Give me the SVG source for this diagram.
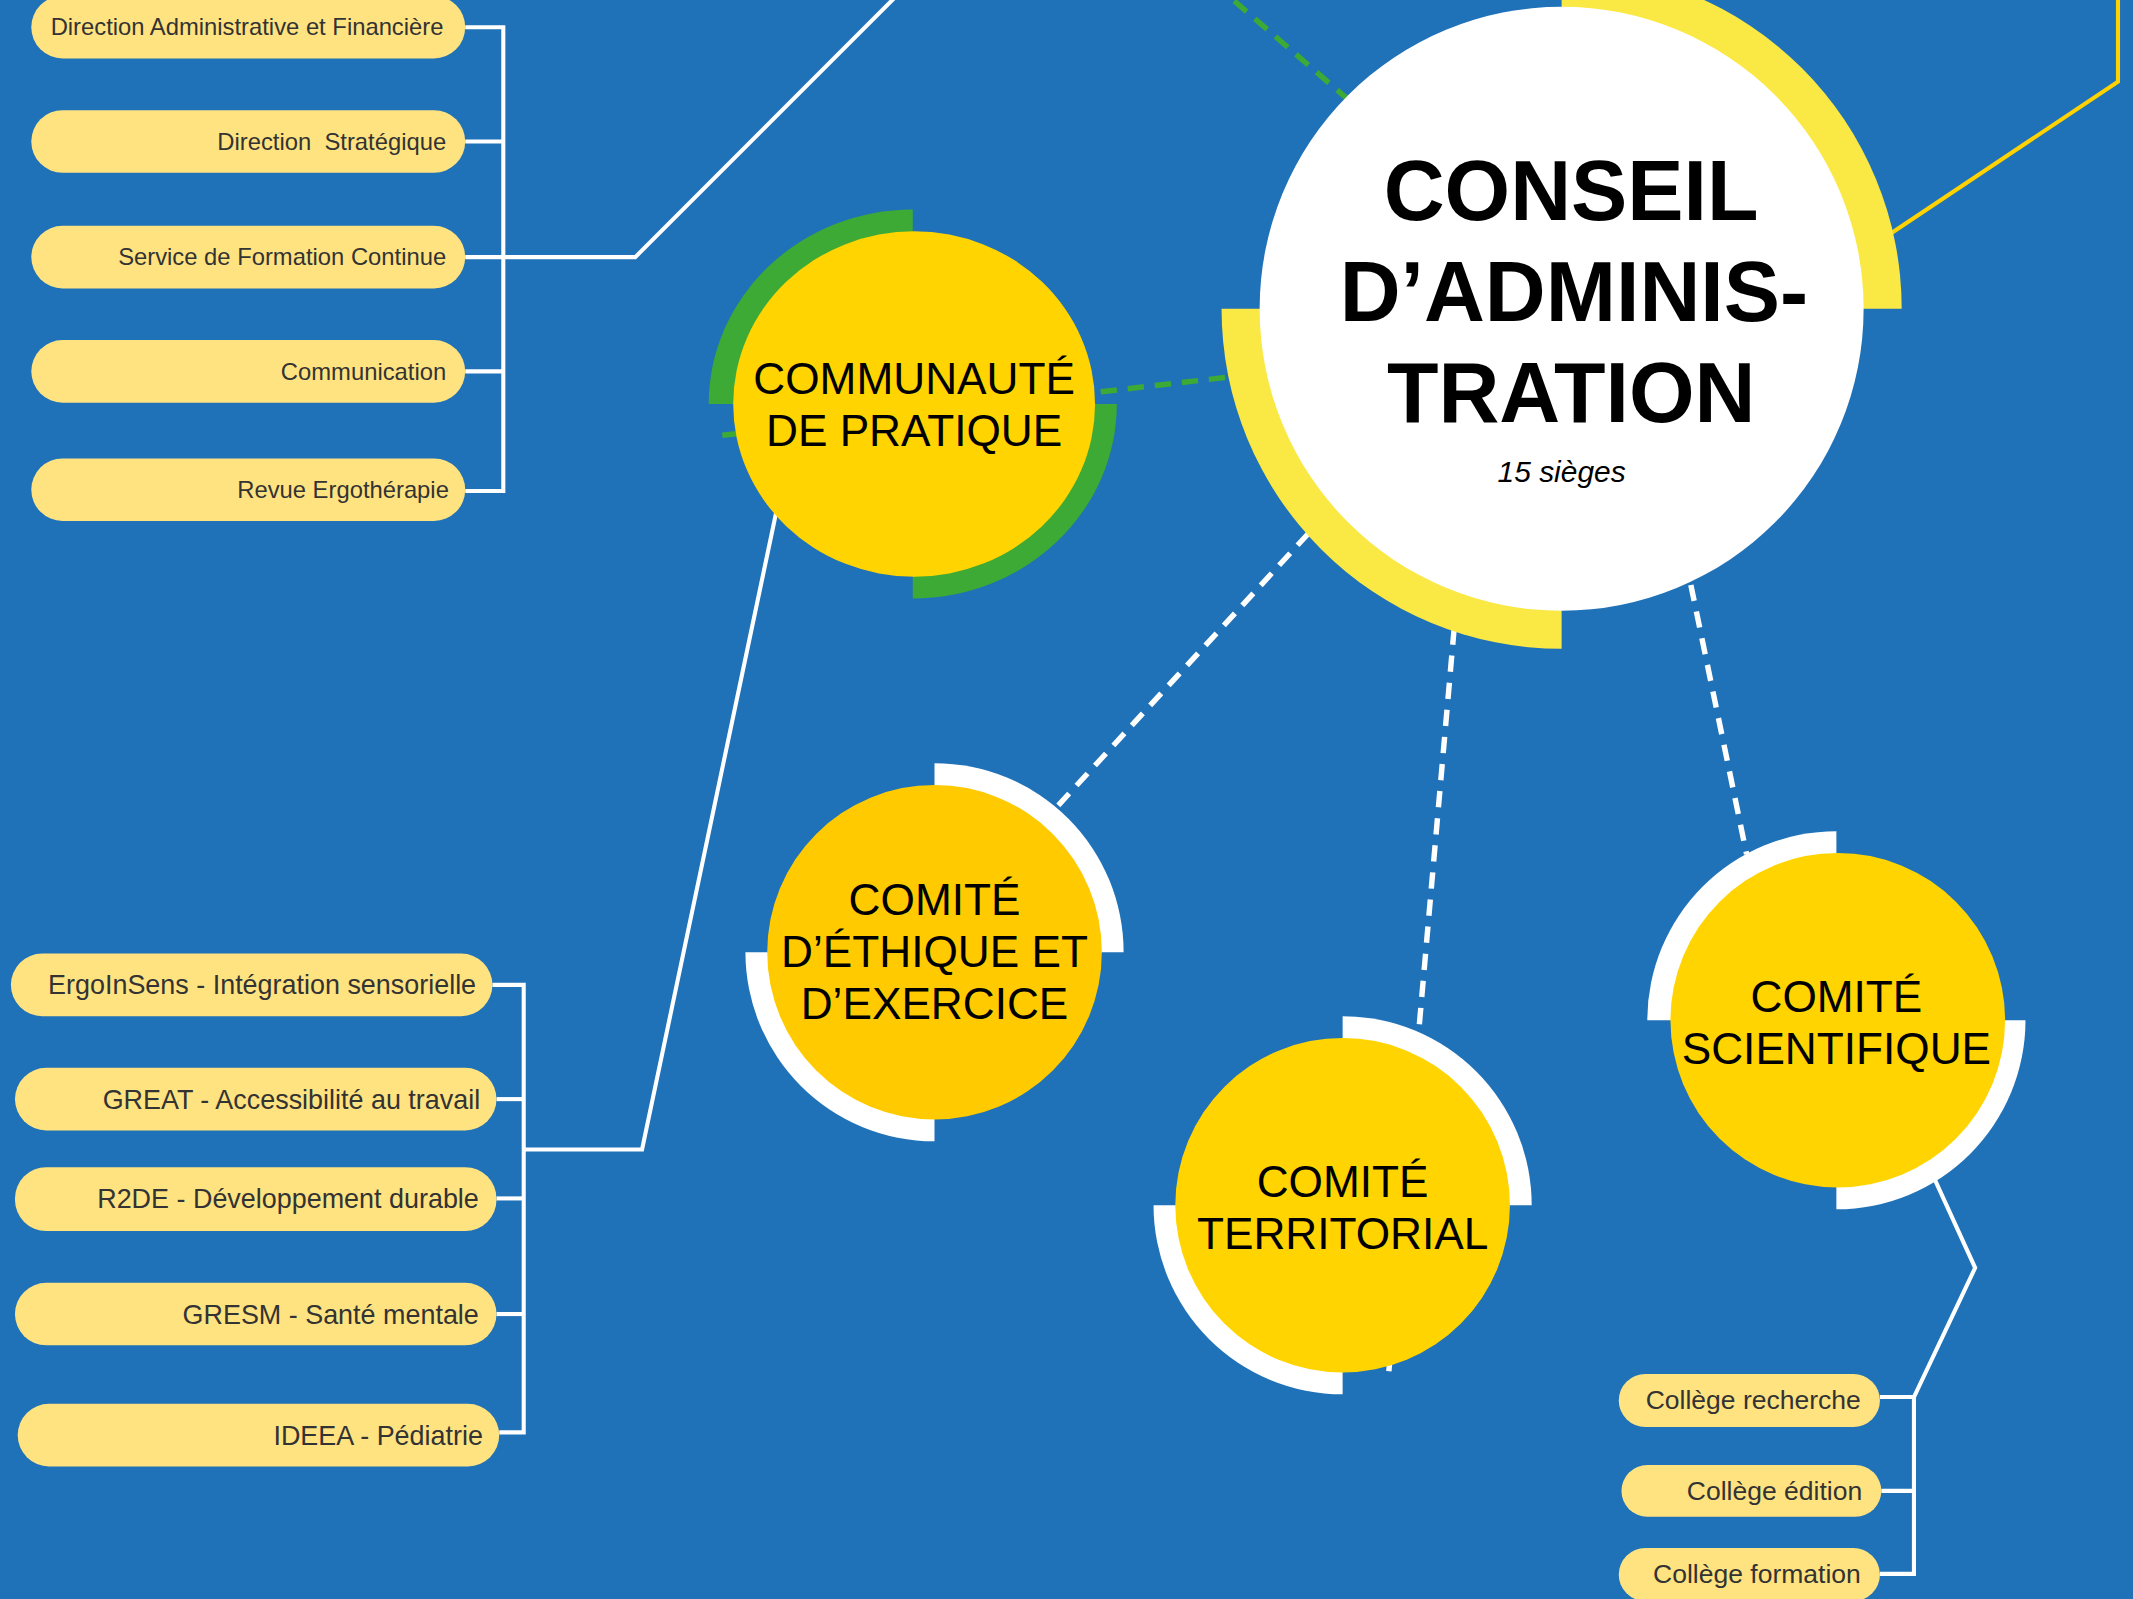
<svg xmlns="http://www.w3.org/2000/svg" width="2133" height="1599" viewBox="0 0 2133 1599">
<style>
.pill{fill:#FFE381}
.pt{font-family:"Liberation Sans",Arial,sans-serif;fill:#333333;text-anchor:end}
.ct{font-family:"Liberation Sans",Arial,sans-serif;fill:#000;text-anchor:middle;font-size:32.5px}
.wl{fill:none;stroke:#fff;stroke-width:3}
.wd{fill:none;stroke:#fff;stroke-width:4;stroke-dasharray:12 8}
.gd{fill:none;stroke:#3DAA35;stroke-width:4;stroke-dasharray:12 8}
.yc{fill:#FFD400}
.wr{fill:#fff}
</style>
<rect width="2133" height="1599" fill="#1F71B8"/>
<g transform="scale(1.3603)">
<g id="connectors">
<polyline class="wl" points="342,20 370,20 370,361 342,361"/>
<line class="wl" x1="342" y1="104" x2="370" y2="104"/>
<line class="wl" x1="342" y1="189" x2="370" y2="189"/>
<line class="wl" x1="342" y1="273" x2="370" y2="273"/>
<polyline class="wl" points="370,189 467,189 660,-4"/>
<polyline class="wl" points="362,724 385,724 385,1053 367,1053"/>
<line class="wl" x1="365" y1="808" x2="385" y2="808"/>
<line class="wl" x1="365" y1="881" x2="385" y2="881"/>
<line class="wl" x1="365" y1="966" x2="385" y2="966"/>
<polyline class="wl" points="385,845 472,845 572,370"/>
<polyline class="wl" points="1382,1027 1407,1027 1407,1157 1382,1157"/>
<line class="wl" x1="1383" y1="1096" x2="1407" y2="1096"/>
<polyline class="wl" points="1420,862 1452,932 1407,1027"/>
<line class="gd" x1="531" y1="320" x2="905" y2="277"/>
<line class="gd" x1="992" y1="74" x2="902" y2="-4"/>
<polyline fill="none" stroke="#FFD200" stroke-width="3" points="1385,175 1557,60 1557,-4"/>
<line class="wd" x1="962" y1="392" x2="778" y2="592"/>
<line class="wd" x1="1069" y1="462" x2="1021" y2="1008"/>
<line class="wd" x1="1243" y1="430" x2="1284" y2="628"/>
</g>
<g id="n-daf"><rect class="pill" x="23" y="-3" width="319" height="46" rx="23"/><text class="pt" x="326" y="25.5" font-size="17.5">Direction Administrative et Financière</text></g>
<g id="n-ds"><rect class="pill" x="23" y="81" width="319" height="46" rx="23"/><text class="pt" x="328" y="110" font-size="17.5" xml:space="preserve">Direction  Stratégique</text></g>
<g id="n-sfc"><rect class="pill" x="23" y="166" width="319" height="46" rx="23"/><text class="pt" x="328" y="195" font-size="17.5">Service de Formation Continue</text></g>
<g id="n-com"><rect class="pill" x="23" y="250" width="319" height="46" rx="23"/><text class="pt" x="328" y="279" font-size="17.5">Communication</text></g>
<g id="n-rev"><rect class="pill" x="23" y="337" width="319" height="46" rx="23"/><text class="pt" x="330" y="366" font-size="17.5">Revue Ergothérapie</text></g>
<g id="n-ergo"><rect class="pill" x="8" y="701" width="354" height="46" rx="23"/><text class="pt" x="350" y="731" font-size="19.8">ErgoInSens - Intégration sensorielle</text></g>
<g id="n-great"><rect class="pill" x="11" y="785" width="354" height="46" rx="23"/><text class="pt" x="353" y="815" font-size="19.8">GREAT - Accessibilité au travail</text></g>
<g id="n-r2de"><rect class="pill" x="11" y="858" width="354" height="47" rx="23"/><text class="pt" x="352" y="888" font-size="19.8">R2DE - Développement durable</text></g>
<g id="n-gresm"><rect class="pill" x="11" y="943" width="354" height="46" rx="23"/><text class="pt" x="352" y="973" font-size="19.8">GRESM - Santé mentale</text></g>
<g id="n-ideea"><rect class="pill" x="13" y="1032" width="354" height="46" rx="23"/><text class="pt" x="355" y="1062" font-size="19.8">IDEEA - Pédiatrie</text></g>
<g id="n-crech"><rect class="pill" x="1190" y="1010" width="192" height="39" rx="19.5"/><text class="pt" x="1368" y="1035.5" font-size="19.5">Collège recherche</text></g>
<g id="n-cedit"><rect class="pill" x="1192" y="1077" width="191" height="38" rx="19"/><text class="pt" x="1369" y="1102.5" font-size="19.5">Collège édition</text></g>
<g id="n-cform"><rect class="pill" x="1190" y="1138" width="192" height="39" rx="19.5"/><text class="pt" x="1368" y="1163.5" font-size="19.5">Collège formation</text></g>
<g id="n-conseil">
<path fill="#FAE944" d="M1148,227 L1148,-23 A250,250 0 0 1 1398,227 Z"/>
<path fill="#FAE944" d="M1148,227 L898,227 A250,250 0 0 0 1148,477 Z"/>
<circle class="wr" cx="1148" cy="227" r="222"/>
<text font-family="'Liberation Sans',Arial,sans-serif" font-weight="bold" font-size="62" text-anchor="middle" fill="#000"><tspan x="1155" y="162">CONSEIL</tspan><tspan x="1157" y="236">D’ADMINIS-</tspan><tspan x="1155" y="310">TRATION</tspan></text>
<text x="1148" y="354" font-family="'Liberation Sans',Arial,sans-serif" font-style="italic" font-size="22" text-anchor="middle" fill="#000">15 sièges</text>
</g>
<g id="n-cdp">
<path fill="#3DAA35" d="M671,297 L521,297 A150,143 0 0 1 671,154 Z"/>
<path fill="#3DAA35" d="M671,297 L821,297 A150,143 0 0 1 671,440 Z"/>
<ellipse class="yc" cx="672" cy="297" rx="133" ry="127"/>
<text class="ct"><tspan x="672" y="290">COMMUNAUTÉ</tspan><tspan x="672" y="328">DE PRATIQUE</tspan></text>
</g>
<g id="n-ethique">
<path class="wr" d="M687,700 L687,561 A139,139 0 0 1 826,700 Z"/>
<path class="wr" d="M687,700 L548,700 A139,139 0 0 0 687,839 Z"/>
<circle fill="#FFCB00" cx="687" cy="700" r="123"/>
<text class="ct"><tspan x="687" y="673">COMITÉ</tspan><tspan x="687" y="711">D’ÉTHIQUE ET</tspan><tspan x="687" y="749">D’EXERCICE</tspan></text>
</g>
<g id="n-territorial">
<path class="wr" d="M987,886 L987,747 A139,139 0 0 1 1126,886 Z"/>
<path class="wr" d="M987,886 L848,886 A139,139 0 0 0 987,1025 Z"/>
<circle class="yc" cx="987" cy="886" r="123"/>
<text class="ct"><tspan x="987" y="880">COMITÉ</tspan><tspan x="987" y="918">TERRITORIAL</tspan></text>
</g>
<g id="n-scientifique">
<path class="wr" d="M1350,750 L1211,750 A139,139 0 0 1 1350,611 Z"/>
<path class="wr" d="M1350,750 L1489,750 A139,139 0 0 1 1350,889 Z"/>
<circle class="yc" cx="1351" cy="750" r="123"/>
<text class="ct"><tspan x="1350" y="744">COMITÉ</tspan><tspan x="1350" y="782">SCIENTIFIQUE</tspan></text>
</g>
</g>
</svg>
